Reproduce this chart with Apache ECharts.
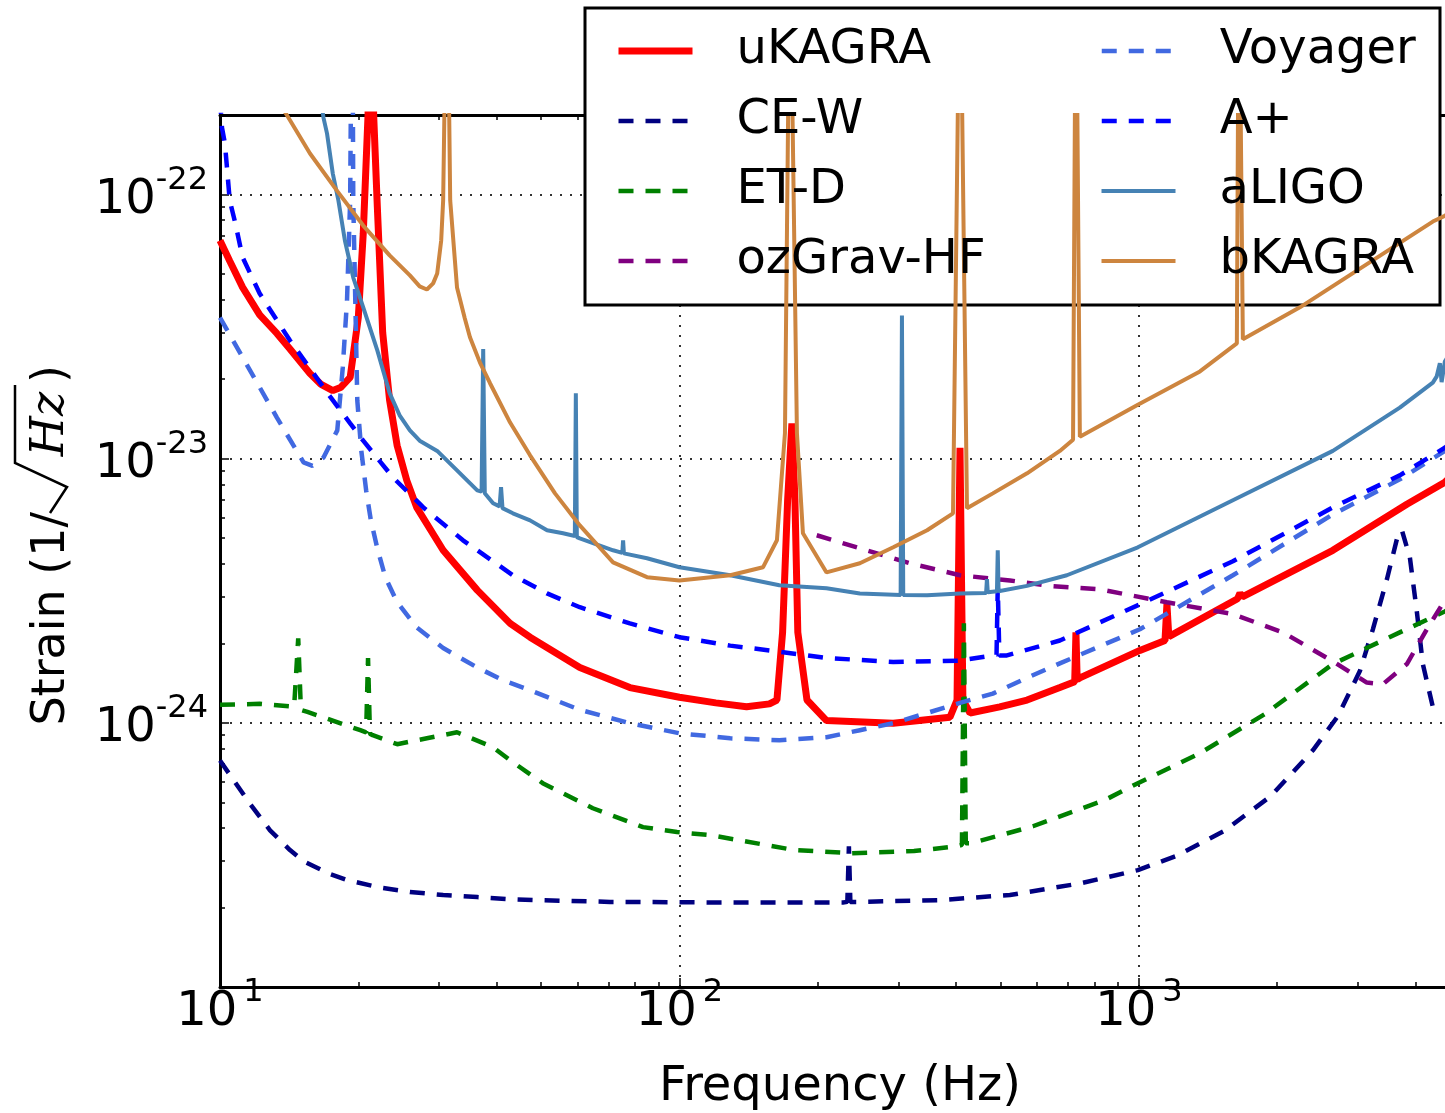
<!DOCTYPE html>
<html>
<head>
<meta charset="utf-8">
<title>Strain sensitivity curves</title>
<script src="https://cdn.jsdelivr.net/npm/echarts@6/dist/echarts.min.js"></script>
<style>
    html, body { margin: 0; padding: 0; background: #fff; }
    #main { width: 1445px; height: 1113px; }
</style>
</head>
<body>
<div id="main"></div>
<script>
// [frequency (Hz), strain (1/sqrt(Hz))]
var uKAGRA = [[10, 6.7e-23], [10.5, 5.6e-23], [11.2, 4.45e-23], [12.2, 3.5e-23], [13.3, 2.98e-23], [14.2, 2.6e-23],
    [15.7, 2.1e-23], [16.6, 1.91e-23], [17.6, 1.81e-23], [18.3, 1.86e-23], [19.2, 2.03e-23], [20.0, 3.42e-23], [20.5, 7.1e-23],
    [21.0, 2.0e-22], [21.3, 1e-21], [21.6, 2.0e-22], [22.0, 9.0e-23], [22.6, 3.0e-23], [23.4, 1.66e-23], [24.3, 1.12e-23],
    [25.5, 8.28e-24], [26.8, 6.54e-24], [30.6, 4.5e-24], [36.3, 3.18e-24], [42.8, 2.38e-24], [47.3, 2.11e-24], [60.7, 1.62e-24],
    [78, 1.36e-24], [100, 1.25e-24], [120, 1.19e-24], [140, 1.15e-24], [157, 1.18e-24], [163, 1.22e-24], [167.7, 2.2e-24],
    [172, 7e-24], [175.7, 1.36e-23], [178.4, 7e-24], [181, 2.2e-24], [189.5, 1.22e-24], [209, 1.02e-24], [292, 9.97e-25],
    [388, 1.05e-24], [402, 1.22e-24], [408, 1.1e-23], [414, 1.22e-24], [429, 1.09e-24], [498, 1.15e-24], [571, 1.22e-24],
    [673, 1.36e-24], [725, 1.43e-24], [729.5, 2.2e-24], [734, 1.46e-24], [744, 1.48e-24], [1005, 1.88e-24], [1140, 2.05e-24],
    [1151, 2.81e-24], [1162, 2.12e-24], [1640, 2.95e-24], [1660, 3.1e-24], [1680, 3.0e-24], [2644, 4.5e-24], [3831, 6.72e-24],
    [4634, 8.14e-24], [4752, 8.5e-24]];

var ceW = [[10, 7.2e-25], [11.6, 4.96e-25], [12.85, 3.92e-25], [14.2, 3.3e-25], [15.2, 2.99e-25], [16.3, 2.82e-25],
    [17.4, 2.67e-25], [18.9, 2.54e-25], [22.0, 2.39e-25], [25.9, 2.29e-25], [30.6, 2.23e-25], [36.3, 2.19e-25], [42.8, 2.15e-25],
    [50.4, 2.13e-25], [70.6, 2.1e-25], [116.5, 2.09e-25], [227, 2.09e-25], [232, 2.1e-25], [233.8, 3.41e-25], [235.5, 2.1e-25],
    [243, 2.1e-25], [365, 2.13e-25], [524, 2.23e-25], [748, 2.47e-25], [995, 2.77e-25], [1204, 3.13e-25], [1531, 3.89e-25],
    [1938, 5.28e-25], [2392, 7.87e-25], [2711, 1.06e-24], [3027, 1.57e-24], [3231, 2.26e-24], [3466, 3.49e-24], [3643, 4.95e-24],
    [3736, 5.36e-24], [3889, 4.23e-24], [4027, 2.64e-24], [4150, 1.67e-24], [4363, 1.15e-24], [4452, 1.11e-24]];

var etD = [[10, 1.17e-24], [12.2, 1.18e-24], [14.5, 1.15e-24], [14.8, 2.09e-24], [15.0, 1.12e-24], [15.5, 1.1e-24],
    [17.6, 1.02e-24], [20.2, 9.38e-25], [20.8, 9.2e-25], [21.0, 1.76e-24], [21.2, 9.1e-25], [21.5, 8.98e-25], [24.3, 8.3e-25],
    [28.2, 8.74e-25], [32.8, 9.21e-25], [39.3, 8.08e-25], [42.8, 7.22e-25], [50.4, 5.91e-25], [64.8, 4.75e-25], [83.3, 4.03e-25],
    [98.8, 3.86e-25], [116.5, 3.76e-25], [178, 3.3e-25], [237, 3.21e-25], [324, 3.27e-25], [402, 3.41e-25], [412, 3.45e-25],
    [416, 2.38e-24], [420, 3.5e-25], [431, 3.5e-25], [588, 4.06e-25], [843, 5.1e-25], [995, 5.91e-25], [1358, 7.67e-25],
    [1880, 1.08e-24], [2644, 1.67e-24], [3698, 2.2e-24], [4634, 2.64e-24], [4752, 2.7e-24]];

var ozGravHF = [[199, 5.13e-24], [247, 4.58e-24], [317, 4.02e-24], [408, 3.62e-24], [524, 3.46e-24], [650, 3.29e-24],
    [823, 3.2e-24], [1151, 2.86e-24], [1602, 2.58e-24], [2058, 2.2e-24], [2644, 1.71e-24], [3135, 1.42e-24], [3397, 1.4e-24],
    [3831, 1.67e-24], [4234, 2.26e-24], [4634, 2.91e-24], [4752, 3.1e-24]];

var voyager = [[10, 3.42e-23], [11.2, 2.42e-23], [13.3, 1.43e-23], [15.2, 9.68e-24], [15.9, 9.4e-24], [16.8, 1.01e-23],
    [18.0, 1.28e-23], [18.5, 2.21e-23], [18.9, 3.97e-23], [19.2, 9.5e-23], [19.4, 1e-21], [19.5, 9.5e-23], [19.7, 3.97e-23],
    [19.9, 1.66e-23], [20.3, 1.075e-23], [20.8, 7.59e-24], [21.3, 5.84e-24], [22.0, 4.58e-24], [22.9, 3.56e-24], [24.3, 2.86e-24],
    [26.8, 2.3e-24], [30.6, 1.92e-24], [36.3, 1.62e-24], [41.3, 1.45e-24], [47.3, 1.33e-24], [60.7, 1.12e-24], [78, 9.97e-25],
    [100, 9.13e-25], [129, 8.74e-25], [165, 8.59e-25], [209, 8.82e-25], [247, 9.38e-25], [292, 9.97e-25], [346, 1.09e-24],
    [408, 1.19e-24], [481, 1.29e-24], [571, 1.48e-24], [673, 1.68e-24], [1005, 2.26e-24], [1602, 3.62e-24], [2644, 6.15e-24],
    [3698, 8.35e-24], [4634, 1.07e-23], [4752, 1.1e-23]];

var aPlus = [[10, 2.3e-22], [10.1, 1.79e-22], [10.25, 1.56e-22], [10.5, 9.5e-23], [10.8, 7.77e-23], [11.2, 5.78e-23],
    [12.2, 4.22e-23], [14.2, 2.8e-23], [17.4, 1.71e-23], [19.2, 1.36e-23], [20.5, 1.17e-23], [23.8, 8.49e-24], [27.7, 6.54e-24],
    [33.8, 4.91e-24], [43.4, 3.62e-24], [51.5, 3.09e-24], [60.7, 2.74e-24], [78, 2.38e-24], [100, 2.11e-24], [129, 1.96e-24],
    [157, 1.88e-24], [209, 1.76e-24], [292, 1.7e-24], [408, 1.72e-24], [481, 1.8e-24], [490, 1.81e-24], [493, 3.26e-24],
    [497, 1.8e-24], [516, 1.8e-24], [673, 2.05e-24], [1005, 2.81e-24], [1602, 4.09e-24], [2644, 6.54e-24], [3698, 8.65e-24],
    [4634, 1.1e-23], [4752, 1.14e-23]];

var aLIGO = [[16.3, 2.8e-22], [16.8, 1.95e-22], [17.1, 1.7e-22], [17.6, 1.2e-22], [18.1, 9.5e-23], [18.7, 6.7e-23],
    [19.5, 4.85e-23], [20.5, 3.74e-23], [22.0, 2.57e-23], [23.4, 1.77e-23], [24.6, 1.46e-23], [25.9, 1.28e-23], [27.2, 1.17e-23],
    [29.7, 1.07e-23], [32.8, 9.03e-24], [36.3, 7.59e-24], [37.1, 7.5e-24], [37.4, 2.6e-23], [37.7, 7.4e-24], [39.3, 6.78e-24],
    [40.6, 6.6e-24], [40.9, 7.8e-24], [41.2, 6.5e-24], [43.4, 6.21e-24], [47.3, 5.84e-24], [51.5, 5.36e-24], [55.8, 5.22e-24],
    [59.2, 5.1e-24], [59.5, 1.77e-23], [59.8, 5.05e-24], [60.7, 4.99e-24], [71.7, 4.5e-24], [75.1, 4.4e-24], [75.4, 4.91e-24],
    [75.7, 4.38e-24], [85, 4.2e-24], [100, 3.88e-24], [129, 3.62e-24], [165, 3.32e-24], [209, 3.23e-24], [247, 3.09e-24],
    [303, 3.05e-24], [305, 3.48e-23], [307, 3.05e-24], [346, 3.04e-24], [408, 3.09e-24], [465, 3.1e-24], [467, 3.5e-24],
    [469, 3.12e-24], [491, 3.15e-24], [493, 4.5e-24], [495, 3.15e-24], [571, 3.3e-24], [697, 3.62e-24], [995, 4.62e-24],
    [1602, 6.96e-24], [2644, 1.07e-23], [3698, 1.56e-23], [4363, 1.94e-23], [4450, 2.05e-23], [4520, 2.3e-23], [4560, 1.95e-23],
    [4634, 2.33e-23], [4752, 2.5e-23]];

var bKAGRA = [[13.3, 2.3e-22], [14.0, 1.99e-22], [15.7, 1.43e-22], [18.0, 1.03e-22], [20.5, 7.63e-23], [23.4, 5.88e-23],
    [25.9, 4.94e-23], [27.2, 4.49e-23], [28.2, 4.37e-23], [29.1, 4.61e-23], [29.7, 5.02e-23], [30.3, 6.7e-23], [30.6, 9.5e-23],
    [31.2, 1e-21], [31.7, 9.5e-23], [32.8, 4.45e-23], [34.1, 3.4e-23], [35.0, 2.88e-23], [36.8, 2.31e-23], [38.7, 1.93e-23],
    [42.8, 1.37e-23], [47.3, 1.03e-23], [53.6, 7.39e-24], [60.7, 5.59e-24], [71.7, 4.05e-24], [85, 3.56e-24], [100, 3.46e-24],
    [129, 3.62e-24], [152, 3.88e-24], [163, 4.91e-24], [169.7, 1.25e-23], [174, 1e-21], [180.2, 1.25e-23], [185.7, 5.22e-24],
    [209, 3.71e-24], [247, 4.02e-24], [292, 4.62e-24], [346, 5.36e-24], [394, 6.21e-24], [408, 1e-21], [422.5, 6.49e-24],
    [481, 7.39e-24], [571, 8.8e-24], [673, 1.07e-23], [719, 1.18e-23], [729.5, 1e-21], [744, 1.21e-23], [995, 1.6e-23],
    [1358, 2.14e-23], [1634, 2.73e-23], [1651, 1e-21], [1684, 2.83e-23], [2241, 3.74e-23], [4363, 7.9e-23], [4634, 8.3e-23],
    [4752, 8.6e-23]];

var legendOrder = ['uKAGRA', 'Voyager', 'CE-W', 'A+', 'ET-D', 'aLIGO', 'ozGrav-HF', 'bKAGRA'];
var xDecades = [10, 100, 1000];
var yDecades = [1e-25, 1e-24, 1e-23];
var xMin = 10, xMax = 5000, yMin = 1e-25, yMax = 2e-22;

// minor log ticks (2..9 of every decade), as log10 positions for the helper axes
function minorTicks(decades, limit) {
    var out = [];
    decades.forEach(function (d) {
        for (var k = 2; k <= 9; k++) {
            if (d * k < limit) out.push(Math.log10(d * k));
        }
    });
    return out;
}
var xMinor = minorTicks(xDecades, xMax);
var yMinor = minorTicks(yDecades, yMax);

var FONT = 'DejaVu Sans';

function powLabel(v) {
    var e = Math.log10(v);
    var r = Math.round(e);
    if (Math.abs(e - r) > 1e-6) return '';
    return '{b|10}{e|' + r + '}';
}
var powRich = {
    b: { fontSize: 48, lineHeight: 48, fontFamily: FONT, color: '#000', verticalAlign: 'bottom' },
    e: { fontSize: 32, lineHeight: 32, fontFamily: FONT, color: '#000', verticalAlign: 'bottom', padding: [0, 0, 28, 0] }
};
var powRichX = {
    b: powRich.b,
    e: { fontSize: 32, lineHeight: 32, fontFamily: FONT, color: '#000', verticalAlign: 'bottom', padding: [0, 0, 28, 6] }
};

function line(name, data, color, width, dashed) {
    return {
        name: name,
        type: 'line',
        data: data,
        xAxisIndex: 0,
        yAxisIndex: 0,
        symbol: 'none',
        showSymbol: false,
        clip: true,
        silent: true,
        animation: false,
        itemStyle: { color: color },
        lineStyle: { color: color, width: width, type: dashed ? [15, 12] : 'solid' }
    };
}

var frame = { show: true, onZero: false, lineStyle: { color: '#000', width: 3 } };
var dotted = { show: true, lineStyle: { color: '#333', width: 2, type: [2, 8] } };
var rot = Math.PI / 2;

var chart = echarts.init(document.getElementById('main'));
chart.setOption({
    backgroundColor: '#fff',
    animation: false,
    grid: { left: 220, top: 115, right: -15, bottom: 126, containLabel: false, outerBoundsMode: 'none' },
    legend: {
        data: legendOrder,
        left: 615,
        top: 21,
        width: 960,
        padding: 0,
        itemGap: 10,
        itemWidth: 74,
        itemHeight: 14,
        selectedMode: false,
        z: 5,
        itemStyle: { opacity: 0 },
        lineStyle: { width: 'inherit' },
        textStyle: { fontSize: 48, fontFamily: FONT, color: '#000', width: 353, lineHeight: 60, padding: [0, 0, 0, 39] }
    },
    graphic: [
        {
            type: 'rect', z: 3,
            shape: { x: 585, y: 8, width: 855, height: 297 },
            style: { fill: '#fff', stroke: '#000', lineWidth: 3 }
        },
        // y axis title: Strain (1/sqrt(Hz))
        {
            type: 'text', x: 52, y: 512, rotation: rot,
            style: { text: 'Strain (1/', fontSize: 46, fontFamily: FONT, fill: '#000', align: 'right', verticalAlign: 'middle' }
        },
        {
            type: 'polyline',
            shape: { points: [[50, 513], [67, 487], [15, 463], [15, 385]] },
            style: { stroke: '#000', lineWidth: 2.5, fill: null }
        },
        {
            type: 'text', x: 51, y: 424, rotation: rot,
            style: { text: 'Hz', fontSize: 46, fontFamily: 'DejaVu Serif', fontStyle: 'italic', fill: '#000', align: 'center', verticalAlign: 'middle' }
        },
        {
            type: 'text', x: 52, y: 374, rotation: rot,
            style: { text: ')', fontSize: 46, fontFamily: FONT, fill: '#000', align: 'center', verticalAlign: 'middle' }
        }
    ],
    xAxis: [
        {
            type: 'log', logBase: 10, min: xMin, max: xMax, position: 'bottom',
            name: 'Frequency (Hz)', nameLocation: 'middle', nameGap: 77,
            nameTextStyle: { fontSize: 48, fontFamily: FONT, color: '#000' },
            axisLine: frame,
            axisTick: { show: true, inside: true, length: 9, lineStyle: { color: '#000', width: 1.5 } },
            axisLabel: { margin: 2, formatter: powLabel, rich: powRichX, showMaxLabel: false },
            splitLine: dotted
        },
        {
            type: 'value', min: 1, max: Math.log10(xMax), position: 'bottom',
            axisLine: { show: false, onZero: false },
            axisTick: { show: true, inside: true, length: 5, customValues: xMinor, lineStyle: { color: '#000', width: 1.5 } },
            axisLabel: { show: false }, splitLine: { show: false }
        },
        {
            type: 'log', logBase: 10, min: xMin, max: xMax, position: 'top',
            axisLine: frame,
            axisTick: { show: true, inside: true, length: 9, lineStyle: { color: '#000', width: 1.5 } },
            axisLabel: { show: false }, splitLine: { show: false }
        },
        {
            type: 'value', min: 1, max: Math.log10(xMax), position: 'top',
            axisLine: { show: false, onZero: false },
            axisTick: { show: true, inside: true, length: 5, customValues: xMinor, lineStyle: { color: '#000', width: 1.5 } },
            axisLabel: { show: false }, splitLine: { show: false }
        }
    ],
    yAxis: [
        {
            type: 'log', logBase: 10, min: yMin, max: yMax, position: 'left',
            axisLine: frame,
            axisTick: { show: true, inside: true, length: 9, lineStyle: { color: '#000', width: 1.5 } },
            axisLabel: { margin: 12, padding: [12, 0, 0, 0], formatter: powLabel, rich: powRich, showMaxLabel: false },
            splitLine: dotted
        },
        {
            type: 'value', min: Math.log10(yMin), max: Math.log10(yMax), position: 'left',
            axisLine: { show: false, onZero: false },
            axisTick: { show: true, inside: true, length: 5, customValues: yMinor, lineStyle: { color: '#000', width: 1.5 } },
            axisLabel: { show: false }, splitLine: { show: false }
        }
    ],
    series: [
        line('uKAGRA', uKAGRA, '#ff0000', 7, false),
        line('CE-W', ceW, '#000080', 4.5, true),
        line('ET-D', etD, '#008000', 4.5, true),
        line('ozGrav-HF', ozGravHF, '#800080', 4.5, true),
        line('Voyager', voyager, '#4169e1', 4.5, true),
        line('A+', aPlus, '#0000ff', 4.5, true),
        line('aLIGO', aLIGO, '#4682b4', 4, false),
        line('bKAGRA', bKAGRA, '#cd853f', 4, false)
    ]
});
</script>
</body>
</html>
